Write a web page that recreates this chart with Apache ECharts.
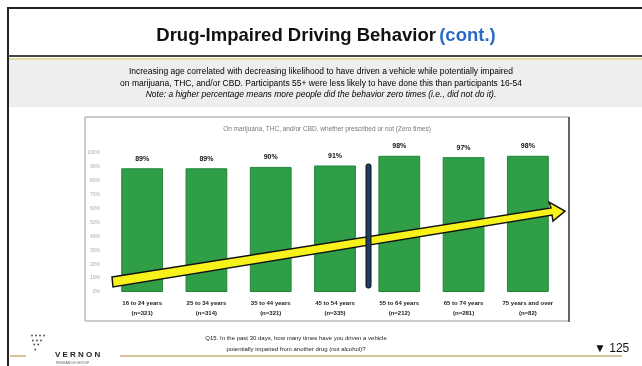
<!DOCTYPE html>
<html>
<head>
<meta charset="utf-8">
<script src="https://cdn.jsdelivr.net/npm/echarts@6/dist/echarts.min.js"></script>
<style>
  html, body { margin: 0; padding: 0; background: #fff; }
  #main { width: 642px; height: 366px; }
</style>
</head>
<body>
<div id="main"></div>
<script>
// 年龄段 + 样本量
let categories = ['16 to 24 years\n(n=321)', '25 to 34 years\n(n=314)', '35 to 44 years\n(n=321)',
  '45 to 54 years\n(n=335)', '55 to 64 years\n(n=212)', '65 to 74 years\n(n=281)', '75 years and over\n(n=82)']
// zero times 百分比
let zeroTimes = [89, 89, 90, 91, 98, 97, 98]
let yTicks = [0, 100, 10]   // min, max, interval

let font = '"Liberation Sans", Arial, sans-serif'

let option = {
  backgroundColor: '#fff',
  textStyle: { fontFamily: font },
  grid: { left: 110, right: 82, top: 153, bottom: 74 },
  xAxis: {
    type: 'category',
    data: categories,
    axisLine: { show: false },
    axisTick: { show: false },
    axisLabel: {
      interval: 0,
      margin: 6,
      color: '#222',
      fontSize: 6,
      fontWeight: 'bold',
      lineHeight: 10
    }
  },
  yAxis: {
    type: 'value',
    min: yTicks[0],
    max: yTicks[1],
    interval: yTicks[2],
    splitLine: { show: false },
    axisLine: { show: false },
    axisLabel: { color: '#aaa', fontSize: 5, margin: 10, formatter: '{value}%' }
  },
  series: [{
    type: 'bar',
    data: zeroTimes,
    barWidth: '65%',
    itemStyle: { color: '#2f9e46', borderColor: '#23853a', borderWidth: 1 },
    label: {
      show: true,
      position: 'top',
      distance: 6,
      color: '#111',
      fontSize: 7,
      fontWeight: 'bold',
      formatter: '{c}%'
    }
  }],
  graphic: [
    // 幻灯片边框
    { type: 'rect', shape: { x: 8, y: 8, width: 640, height: 360 }, style: { fill: 'none', stroke: '#222', lineWidth: 2 }, z: 0 },
    { type: 'line', shape: { x1: 8, y1: 56, x2: 642, y2: 56 }, style: { stroke: '#444', lineWidth: 2 } },
    { type: 'line', shape: { x1: 9, y1: 59, x2: 642, y2: 59 }, style: { stroke: '#e6dca0', lineWidth: 2 } },
    { type: 'rect', shape: { x: 9, y: 60, width: 633, height: 47 }, style: { fill: '#eeeeee' }, z: 0 },
    {
      type: 'text', x: 326, y: 26,
      style: {
        text: '{a|Drug-Impaired Driving Behavior} {b|(cont.)}',
        align: 'center',
        rich: {
          a: { fontSize: 18.5, fontWeight: 'bold', fill: '#111', fontFamily: font },
          b: { fontSize: 18.5, fontWeight: 'bold', fill: '#2b6cc0', fontFamily: font }
        }
      }
    },
    {
      type: 'text', x: 321, y: 66,
      style: {
        text: 'Increasing age correlated with decreasing likelihood to have driven a vehicle while potentially impaired\non marijuana, THC, and/or CBD. Participants 55+ were less likely to have done this than participants 16-54',
        align: 'center', fill: '#000', fontSize: 8.5, lineHeight: 12, fontFamily: font
      }
    },
    {
      type: 'text', x: 321, y: 90,
      style: {
        text: 'Note: a higher percentage means more people did the behavior zero times (i.e., did not do it).',
        align: 'center', fill: '#000', fontSize: 8.5, fontStyle: 'italic', fontFamily: font
      }
    },
    // 图表框
    { type: 'rect', shape: { x: 85, y: 117, width: 484, height: 204 }, style: { fill: 'none', stroke: '#999', lineWidth: 1 }, z: 0 },
    { type: 'line', shape: { x1: 569, y1: 117, x2: 569, y2: 322 }, style: { stroke: '#444', lineWidth: 1.5 } },
    {
      type: 'text', x: 327, y: 126,
      style: {
        text: 'On marijuana, THC, and/or CBD, whether prescribed or not (Zero times)',
        align: 'center', fill: '#777', fontSize: 6.5, fontFamily: font
      }
    },
    // 55+ 分隔线
    {
      type: 'rect', shape: { x: 366, y: 164, width: 5, height: 124, r: 2 },
      style: { fill: '#1d3d63', stroke: '#111', lineWidth: 1 }, z: 10
    },
    // 黄色箭头
    {
      type: 'polygon', z: 9,
      shape: { points: [[112, 277], [551, 208], [549, 202], [565, 211], [553, 221], [552, 215], [113, 287]] },
      style: { fill: '#f6f21a', stroke: '#111', lineWidth: 1.5 }
    },
    // 页脚
    { type: 'line', shape: { x1: 10, y1: 356, x2: 26, y2: 356 }, style: { stroke: '#c9b27a', lineWidth: 1.5 } },
    { type: 'line', shape: { x1: 120, y1: 356, x2: 622, y2: 356 }, style: { stroke: '#c9b27a', lineWidth: 1.5 } },
    {
      type: 'text', x: 55, y: 351,
      style: { text: 'V E R N O N', fill: '#222', fontSize: 8, fontWeight: 'bold', fontFamily: font }
    },
    {
      type: 'text', x: 56, y: 361,
      style: { text: 'RESEARCH GROUP', fill: '#666', fontSize: 3.5, fontFamily: font }
    },
    {
      type: 'text', x: 30, y: 334,
      style: { text: '▼▼▼▼\n ▼▼▼\n  ▼▼\n   ▼', fill: '#444', fontSize: 4, lineHeight: 4.5, fontFamily: font }
    },
    {
      type: 'text', x: 296, y: 333,
      style: {
        text: 'Q15. In the past 30 days, how many times have you driven a vehicle\npotentially impaired from another drug (not alcohol)?',
        align: 'center', fill: '#222', fontSize: 6, lineHeight: 11, fontFamily: font
      }
    },
    {
      type: 'text', x: 594, y: 343,
      style: { text: '▼ 125', fill: '#111', fontSize: 12, fontFamily: font }
    }
  ]
}
echarts.init(document.getElementById('main')).setOption(option)
</script>
</body>
</html>
